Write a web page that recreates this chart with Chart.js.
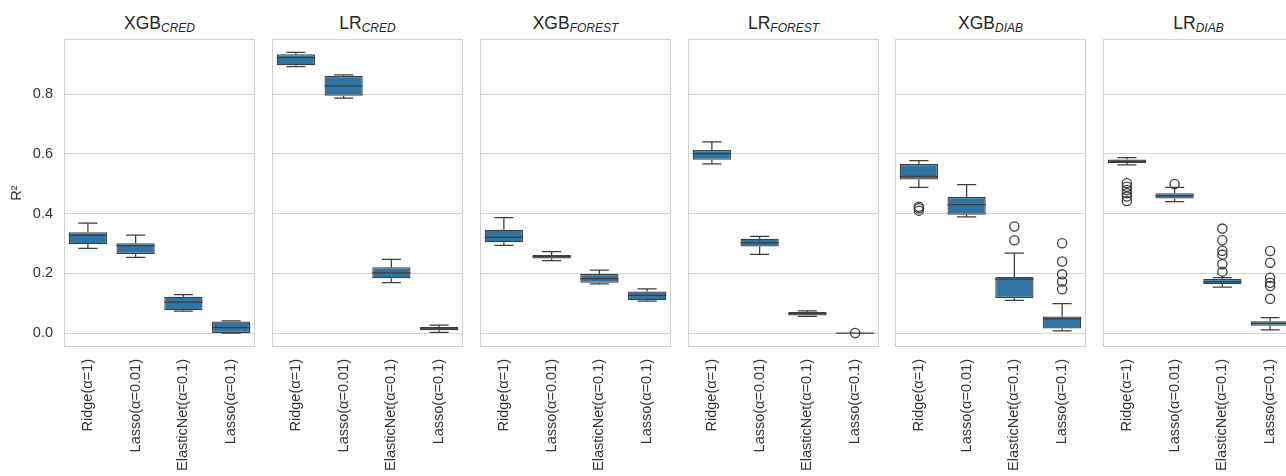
<!DOCTYPE html>
<html>
<head>
<meta charset="utf-8">
<script src="https://cdn.jsdelivr.net/npm/chart.js@4.4.1/dist/chart.umd.min.js"></script>
<style>
  body { margin: 0; width: 1286px; height: 476px; overflow: hidden; background: #fff; position: relative;
         font-family: "Liberation Sans", Arial, sans-serif; }
  .panel { position: absolute; top: 39px; height: 437px; }
  .panel canvas { display: block; }
  .title { position: absolute; top: 13px; height: 20px; line-height: 20px; text-align: center;
           font-size: 17.5px; color: #262626; white-space: nowrap; }
  .title i { font-size: 12px; position: relative; top: 2.5px; }
</style>
</head>
<body>
<script>
// Model categories shown on every panel
const categories = ['Ridge(α=1)', 'Lasso(α=0.01)', 'ElasticNet(α=0.1)', 'Lasso(α=0.1)'];
const yTicks = [0.0, 0.2, 0.4, 0.6, 0.8];
const panelNames = ['XGB', 'LR', 'XGB', 'LR', 'XGB', 'LR'];
const panelSubs = ['CRED', 'CRED', 'FOREST', 'FOREST', 'DIAB', 'DIAB'];

// Each box: [lower whisker, Q1, median, Q3, upper whisker]
const xgbCredBoxes = [[0.284, 0.298, 0.328, 0.338, 0.368], [0.254, 0.265, 0.293, 0.301, 0.328],
                      [0.074, 0.077, 0.104, 0.122, 0.129], [0.000, 0.001, 0.019, 0.039, 0.041]];
const xgbCredOutliers = [[], [], [], []];

const lrCredBoxes = [[0.892, 0.896, 0.922, 0.933, 0.939], [0.786, 0.794, 0.827, 0.860, 0.864],
                     [0.169, 0.184, 0.202, 0.221, 0.247], [0.003, 0.010, 0.015, 0.021, 0.027]];
const lrCredOutliers = [[], [], [], []];

const xgbForestBoxes = [[0.294, 0.304, 0.321, 0.346, 0.387], [0.243, 0.250, 0.256, 0.262, 0.273],
                        [0.165, 0.169, 0.183, 0.198, 0.211], [0.107, 0.110, 0.127, 0.140, 0.148]];
const xgbForestOutliers = [[], [], [], []];

const lrForestBoxes = [[0.566, 0.580, 0.601, 0.613, 0.640], [0.264, 0.290, 0.302, 0.316, 0.324],
                       [0.056, 0.059, 0.066, 0.071, 0.075], [0.000, 0.000, 0.000, 0.000, 0.000]];
const lrForestOutliers = [[], [], [], [0.001]];

const xgbDiabBoxes = [[0.488, 0.514, 0.525, 0.566, 0.577], [0.389, 0.396, 0.430, 0.456, 0.497],
                      [0.110, 0.118, 0.181, 0.188, 0.268], [0.008, 0.016, 0.048, 0.056, 0.099]];
const xgbDiabOutliers = [[0.423, 0.418, 0.410], [], [0.357, 0.311], [0.301, 0.240, 0.197, 0.173, 0.147]];

const lrDiabBoxes = [[0.563, 0.569, 0.575, 0.581, 0.587], [0.440, 0.451, 0.460, 0.468, 0.488],
                     [0.154, 0.164, 0.173, 0.181, 0.186], [0.011, 0.025, 0.033, 0.040, 0.052]];
const lrDiabOutliers = [[0.502, 0.490, 0.479, 0.468, 0.457, 0.442], [0.499],
                        [0.350, 0.311, 0.276, 0.263, 0.231, 0.206], [0.275, 0.236, 0.186, 0.169, 0.158, 0.115]];

const panelBoxes = [xgbCredBoxes, lrCredBoxes, xgbForestBoxes, lrForestBoxes, xgbDiabBoxes, lrDiabBoxes];
const panelOutliers = [xgbCredOutliers, lrCredOutliers, xgbForestOutliers, lrForestOutliers, xgbDiabOutliers, lrDiabOutliers];

// Layout
const plotLefts = [64, 272, 480, 688, 895, 1103];
const plotWidth = 191;
const yAxisWidth = 64;
const xAxisHeight = 129;
const Y_MIN = -0.046, Y_MAX = 0.984;

const FONT = '"Liberation Sans", Arial, sans-serif';
const BOX_FILL = '#3274a1';
const LINE = '#3d3d3d';
const GRID = '#d5d5d5';

function clearPadding(scale) {
  scale.paddingLeft = 0; scale.paddingRight = 0;
  scale.paddingTop = 0; scale.paddingBottom = 0;
}

function boxPlugin(boxes) {
  return {
    id: 'boxDetail',
    beforeDatasetsDraw(chart) {
      const a = chart.chartArea, ctx = chart.ctx;
      ctx.save();
      ctx.strokeStyle = '#cfcfcf';
      ctx.lineWidth = 1;
      ctx.strokeRect(a.left + 0.5, a.top + 0.5, a.right - a.left - 1, a.bottom - a.top - 1);
      ctx.restore();
    },
    afterDatasetsDraw(chart) {
      const meta = chart.getDatasetMeta(0);
      const y = chart.scales.y, ctx = chart.ctx;
      ctx.save();
      ctx.strokeStyle = LINE;
      ctx.lineWidth = 1.25;
      boxes.forEach((b, i) => {
        const bar = meta.data[i];
        const cx = bar.x, hw = bar.width / 2, cw = hw / 2;
        const [lo, q1, med, q3, hi] = b.map(v => y.getPixelForValue(v));
        ctx.beginPath();
        // whiskers
        ctx.moveTo(cx, q3); ctx.lineTo(cx, hi);
        ctx.moveTo(cx, q1); ctx.lineTo(cx, lo);
        // caps
        ctx.moveTo(cx - cw, hi); ctx.lineTo(cx + cw, hi);
        ctx.moveTo(cx - cw, lo); ctx.lineTo(cx + cw, lo);
        // median
        ctx.moveTo(cx - hw, med); ctx.lineTo(cx + hw, med);
        ctx.stroke();
      });
      ctx.restore();
    }
  };
}

function buildPanel(idx) {
  const first = idx === 0;
  const left = first ? 0 : plotLefts[idx];
  const width = first ? plotLefts[0] + plotWidth : plotWidth;

  const wrap = document.createElement('div');
  wrap.className = 'panel';
  wrap.style.left = left + 'px';
  wrap.style.width = width + 'px';
  const canvas = document.createElement('canvas');
  wrap.appendChild(canvas);
  document.body.appendChild(wrap);

  const title = document.createElement('div');
  title.className = 'title';
  title.style.left = plotLefts[idx] + 'px';
  title.style.width = plotWidth + 'px';
  title.innerHTML = panelNames[idx] + '<i>' + panelSubs[idx] + '</i>';
  document.body.appendChild(title);

  const boxes = panelBoxes[idx];
  const outlierPts = [];
  panelOutliers[idx].forEach((list, i) => list.forEach(v => outlierPts.push({ x: categories[i], y: v })));

  new Chart(canvas, {
    type: 'bar',
    data: {
      labels: categories,
      datasets: [
        {
          type: 'bar',
          data: boxes.map(b => [b[1], b[3]]),
          backgroundColor: BOX_FILL,
          borderColor: LINE,
          borderWidth: 1.25,
          borderSkipped: false,
          barPercentage: 0.8,
          categoryPercentage: 1.0,
          order: 2
        },
        {
          type: 'line',
          data: outlierPts,
          showLine: false,
          clip: false,
          pointStyle: 'circle',
          pointRadius: 4.6,
          pointBorderWidth: 1.3,
          pointBorderColor: LINE,
          pointBackgroundColor: 'rgba(0,0,0,0)',
          order: 1
        }
      ]
    },
    options: {
      responsive: true,
      maintainAspectRatio: false,
      animation: false,
      events: [],
      layout: { padding: 0, autoPadding: false },
      plugins: { legend: { display: false }, tooltip: { enabled: false }, title: { display: false } },
      scales: {
        x: {
          grid: { display: false, drawTicks: false },
          border: { display: false },
          ticks: {
            minRotation: 90, maxRotation: 90, autoSkip: false, padding: 12,
            color: '#333333', font: { family: FONT, size: 14.5 }
          },
          afterFit(scale) { scale.height = xAxisHeight; clearPadding(scale); }
        },
        y: {
          min: Y_MIN, max: Y_MAX,
          afterBuildTicks(scale) { scale.ticks = yTicks.map(v => ({ value: v })); },
          grid: { color: GRID, lineWidth: 1, drawTicks: false },
          border: { display: false },
          ticks: {
            display: first, padding: 11, color: '#333333',
            font: { family: FONT, size: 14.5 },
            callback: v => Number(v).toFixed(1)
          },
          title: {
            display: first, text: 'R²', color: '#333333',
            font: { family: FONT, size: 14.5 }, padding: { top: 8, bottom: 0 }
          },
          afterFit(scale) { scale.width = first ? yAxisWidth : 0; clearPadding(scale); }
        }
      }
    },
    plugins: [boxPlugin(boxes)]
  });
}

for (let i = 0; i < 6; i++) buildPanel(i);
</script>
</body>
</html>
